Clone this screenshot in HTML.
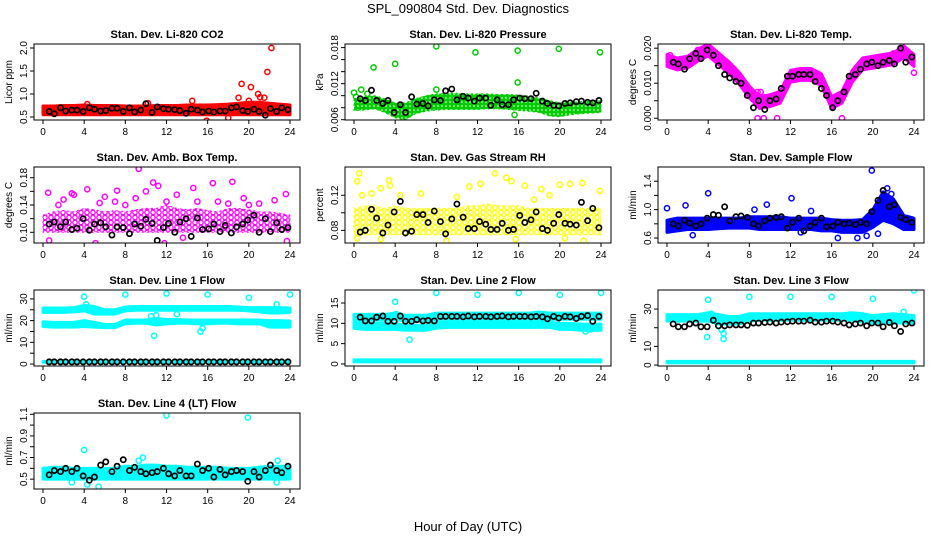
<!DOCTYPE html>
<html><head><meta charset="utf-8"><style>
body{margin:0;background:#fff;}
svg{display:block;font-family:"Liberation Sans",Arial,sans-serif;}
</style></head><body>
<svg id="chart" width="936" height="540" viewBox="0 0 936 540">
<defs>
<pattern id="pat-mag" width="6" height="5" patternUnits="userSpaceOnUse"><circle cx="3" cy="2.5" r="2.2" fill="none" stroke="#ff00ff" stroke-width="1.3"/></pattern>
<pattern id="pat-yel" width="6" height="5" patternUnits="userSpaceOnUse"><circle cx="3" cy="2.5" r="2.2" fill="none" stroke="#ffff00" stroke-width="1.3"/></pattern>
<pattern id="pat-grn" width="4" height="4" patternUnits="userSpaceOnUse"><rect width="4" height="4" fill="#00cc00"/><circle cx="2" cy="2" r="0.8" fill="#ffffff"/></pattern>
</defs>
<text x="468" y="13" text-anchor="middle" font-size="13">SPL_090804  Std. Dev. Diagnostics</text>
<text x="468" y="531" text-anchor="middle" font-size="13">Hour of Day (UTC)</text>
</svg>
<script>
const BAND_HOURS=[0,1,2,3,4,5,6,7,8,9,10,11,12,13,14,15,16,17,18,19,20,21,22,23,24];
const BLACK_X=[0.6,1.1,1.7,2.2,2.8,3.3,3.9,4.5,5.0,5.6,6.1,6.7,7.2,7.8,8.4,8.9,9.5,10.0,10.6,11.1,11.7,12.2,12.8,13.3,13.9,14.4,15.0,15.5,16.1,16.6,17.2,17.7,18.3,18.8,19.4,19.9,20.5,21.0,21.6,22.1,22.7,23.2,23.8];

// Panel 1 CO2
const co2Lo=[.55,.55,.55,.55,.55,.55,.55,.55,.55,.55,.55,.55,.55,.55,.55,.55,.55,.55,.55,.55,.55,.55,.55,.55,.55];
const co2Hi=[.74,.74,.75,.75,.76,.75,.75,.75,.74,.74,.74,.75,.75,.75,.76,.76,.76,.77,.78,.8,.82,.82,.8,.78,.76];
const co2OutX=[19.3,20.2,20.9,21.1,21.5,21.8,22.2,19,14.5,15.9,18,20,4.3,10.2];
const co2OutY=[1.22,1.15,1.0,.93,.92,1.48,2.0,.92,.85,.42,.48,.85,.78,.8];
const co2Black=[.62,.57,.7,.63,.65,.65,.62,.7,.67,.63,.64,.69,.69,.62,.7,.61,.65,.79,.6,.72,.68,.67,.66,.64,.58,.67,.65,.61,.63,.61,.63,.63,.7,.72,.64,.62,.67,.62,.54,.68,.62,.7,.66];
// Panel 2 pressure
const prLo=[.0075,.0076,.0078,.0072,.0063,.006,.007,.0074,.0076,.0077,.0077,.0077,.0077,.0078,.0078,.0077,.0075,.0074,.0072,.0066,.0065,.0068,.007,.0071,.0072];
const prHi=[.0095,.0098,.01,.0095,.0088,.0088,.0095,.01,.0103,.0104,.0104,.0103,.0103,.0103,.0102,.0102,.0101,.0099,.0096,.0092,.0088,.0089,.009,.0092,.0092];
const prOutX=[0,.7,1.9,4,8,8,11.8,15.9,19.9,23.9,15.9,15.6,0.2,1.3];
const prOutY=[.0105,.011,.0147,.0153,.0182,.011,.0172,.0175,.0178,.0172,.0122,.0068,.0098,.0103];
const prBlack=[.0095,.0092,.0109,.0092,.0087,.0092,.0072,.0085,.0072,.0098,.0086,.0087,.0083,.0093,.0092,.0108,.0111,.0093,.0099,.0096,.0091,.0096,.0096,.0084,.0093,.0085,.0085,.0093,.0096,.0095,.0095,.0104,.0091,.0087,.0084,.0083,.0087,.0088,.009,.0091,.0089,.0088,.0092];
// Panel 3 temp
const tpLo=[.0148,.0138,.0143,.0163,.0178,.0153,.0128,.0098,.0058,.0028,.0033,.0043,.0103,.0108,.0108,.0093,.0028,.0043,.0103,.0138,.0143,.0148,.0153,.0173,.0148];
const tpHi=[.0182,.0172,.0177,.0197,.0212,.0187,.0162,.0132,.0092,.0062,.0067,.0077,.0137,.0142,.0142,.0127,.0062,.0077,.0137,.0172,.0177,.0182,.0187,.0207,.0182];
const tpOutX=[8.8,9.4,10.7,17,8.8,9.1,0.3,3,22,24];
const tpOutY=[0,0,0,0,.0075,.0075,.018,.0195,.0185,.013];
const tpBlack=[.016,.0155,.014,.017,.0185,.017,.0195,.018,.015,.0125,.0115,.0105,.01,.0065,.003,.005,.0025,.005,.0055,.0085,.012,.012,.0125,.0125,.0125,.0105,.0085,.0065,.003,.005,.0075,.012,.0125,.014,.0155,.016,.015,.016,.0165,.0155,.02,.016,.0175];
// Panel 4 amb box temp
const abLo=[.1,.1,.1,.1,.1,.1,.1,.1,.1,.1,.1,.1,.1,.1,.1,.1,.1,.1,.1,.1,.1,.1,.1,.1,.1];
const abHi=[.125,.13,.132,.13,.135,.133,.13,.132,.13,.133,.135,.135,.14,.135,.133,.135,.132,.13,.135,.135,.133,.13,.13,.128,.125];
const abOutX=[0.5,2.8,4.3,7.2,9.3,10.7,11.2,16.5,18.4,23.6,0.6,5.1,13.6,23.7,3,6,12,19.5,20,15,22.5,14.6,9,13,1.5,5.5,11.8,8,17,21,2,7,10,18];
const abOutY=[.158,.157,.163,.161,.193,.173,.168,.172,.174,.156,.088,.084,.092,.087,.155,.152,.145,.15,.14,.145,.147,.165,.15,.155,.14,.143,.084,.14,.145,.142,.148,.145,.16,.142];
const abBlack=[.112,.115,.108,.115,.104,.106,.12,.103,.112,.114,.108,.096,.108,.107,.098,.112,.109,.119,.113,.088,.107,.113,.1,.115,.12,.094,.121,.104,.105,.112,.101,.11,.099,.108,.112,.118,.125,.1,.12,.101,.114,.104,.107];
// Panel 5 RH
const rhLo=[.075,.075,.075,.075,.075,.075,.075,.075,.075,.075,.075,.075,.075,.075,.075,.075,.075,.075,.075,.075,.075,.075,.075,.075,.075];
const rhHi=[.105,.108,.108,.105,.108,.105,.105,.105,.105,.105,.105,.108,.108,.11,.108,.108,.108,.105,.105,.105,.105,.105,.105,.105,.105];
const rhOutX=[0.3,0.5,0.8,2.6,3.5,3.4,1.7,4.5,6.5,13.7,14.8,15.3,12.3,16.6,18.2,20,21,22.2,23.9,11.2,20.5,22.3,15.7,0.3,2.6,9,10,17.5,19];
const rhOutY=[.136,.145,.12,.128,.131,.137,.122,.12,.122,.145,.14,.136,.133,.131,.127,.132,.133,.134,.125,.13,.071,.068,.07,.071,.07,.068,.118,.115,.12];
const rhBlack=[.078,.08,.104,.094,.077,.086,.101,.113,.077,.079,.098,.098,.089,.102,.09,.076,.093,.11,.095,.082,.082,.09,.087,.081,.081,.088,.08,.081,.097,.089,.092,.101,.082,.08,.088,.098,.088,.087,.086,.112,.091,.105,.083];
// Panel 6 sample flow
const sfLo=[.68,.7,.72,.72,.72,.73,.74,.74,.74,.72,.72,.72,.72,.72,.72,.7,.7,.68,.68,.68,.75,.85,.8,.72,.72];
const sfHi=[.85,.88,.88,.88,.88,.88,.88,.88,.9,.9,.9,.9,.88,.88,.88,.88,.86,.85,.85,.86,1.0,1.25,1.15,.92,.88];
const sfOutX=[0,1.8,4,9.7,12.1,19.9,21.4,16.6,18.5,19.4,2.5,14,13,8.5,21.8,20.5];
const sfOutY=[1.02,1.06,1.23,1.07,1.16,1.55,1.3,.6,.6,.63,.64,.98,.68,1.0,1.22,.66];
const sfBlack=[.8,.77,.85,.81,.77,.8,.88,.93,.92,1.04,.84,.9,.91,.89,.8,.77,.84,.88,.89,.9,.74,.82,.88,.7,.77,.82,.88,.76,.77,.82,.8,.81,.79,.82,.8,.97,1.13,1.27,1.04,1.07,.89,.86,.82];
// Panel 7 line 1
const l1ALo=[23.8,23.8,23.8,24,24.5,23,23,23,24.5,24.8,24.8,24.8,24.8,24.8,24.8,24.8,24.8,24.8,24.8,24.8,24.5,24,23.5,23.5,23.8];
const l1AHi=[25.8,25.8,25.8,26,27,26.5,25,25,26.3,26.5,26.5,26.5,26.5,26.5,26.5,26.5,26.5,26.5,26.5,26.3,26,26,26,26,25.8];
const l1BLo=[17.3,17,17,17,17.3,17,16.8,16.8,18.5,18.8,18.8,18,18.5,18.8,18.8,18.5,18.5,18.8,18.8,18.5,18.5,18.5,17,17,17];
const l1BHi=[19.5,19.2,19.2,19.2,20,19.2,18.2,18.2,20.3,20.3,20.3,21,20.5,20.5,20.3,20.3,20.3,20.3,20.3,20.3,20.3,20.3,20,20,19.8];
const l1ZLo=[0.8,0.8,0.8,0.8,0.8,0.8,0.8,0.8,0.8,0.8,0.8,0.8,0.8,0.8,0.8,0.8,0.8,0.8,0.8,0.8,0.8,0.8,0.8,0.8,0.8];
const l1ZHi=[1.2,1.2,1.2,1.2,1.2,1.2,1.2,1.2,1.2,1.2,1.2,1.2,1.2,1.2,1.2,1.2,1.2,1.2,1.2,1.2,1.2,1.2,1.2,1.2,1.2];
const l1OutX=[4,8,12,16,20,24,10.8,15.3,4.2,22.7,10.5,11,15.5,13];
const l1OutY=[31,32,32.5,32,30.5,32,13,15,27.5,27.5,22,22.5,16.5,23];
const l1Black=[1,1,1,1,1,1,1,1,1,1,1,1,1,1,1,1,1,1,1,1,1,1,1,1,1,1,1,1,1,1,1,1,1,1,1,1,1,1,1,1,1,1,1];
// Panel 8 line 2
const l2ALo=[10.8,10.8,10.8,10.8,11,10.5,10.5,10.5,11,11,11,11,11,11,11,11,11,11,11,11,11,11,11,11,11];
const l2AHi=[12.2,12.2,12.2,12.2,12.5,12,12,12,12.5,12.5,12.5,12.5,12.5,12.5,12.5,12.5,12.5,12.5,12.8,12.5,12.5,12.5,12.5,12.5,12.5];
const l2BLo=[8.8,8.5,8.5,8.5,8.5,8.3,8.3,8.3,8.8,9,9,9,9,9,9,9,9,9,9,9,8.5,8.5,8.3,8.3,8.3];
const l2BHi=[10.2,10,10,10,10,9.5,9.5,9.5,10.2,10.3,10.3,10.3,10.3,10.3,10.3,10.3,10.3,10.3,10.3,10.3,10,10,9.8,9.8,9.8];
const l2ZLo=[0.5,0.5,0.5,0.5,0.5,0.5,0.5,0.5,0.5,0.5,0.5,0.5,0.5,0.5,0.5,0.5,0.5,0.5,0.5,0.5,0.5,0.5,0.5,0.5,0.5];
const l2ZHi=[1.0,1.0,1.0,1.0,1.0,1.0,1.0,1.0,1.0,1.0,1.0,1.0,1.0,1.0,1.0,1.0,1.0,1.0,1.0,1.0,1.0,1.0,1.0,1.0,1.0];
const l2OutX=[4,8,12,16,20,24,5.4,4.1,22.5,23];
const l2OutY=[15.3,17.5,17,17.5,17,17.5,6,12.3,8,8.5];
const l2Black=[11.5,10.6,10.6,11.5,11.8,10.5,10.5,11.8,10.5,10.5,10.9,10.6,10.7,10.6,11.7,11.7,11.7,11.7,11.6,11.8,11.6,11.7,11.7,11.6,11.7,11.8,11.6,11.7,11.7,11.7,11.6,11.7,11.6,11.1,11.7,11.3,11.7,11.6,11.2,11.7,11.9,10.5,11.7];
// Panel 9 line 3
const l3ALo=[23.5,23.5,23.5,23.5,23.5,22,22,22,23.5,24,24,24,24,24,24,24,24,24,24,23,22.5,22.5,22.5,22.5,22.5];
const l3AHi=[27,27,27,27,28,27,26,26,27.5,27.5,27.5,27.5,27.5,27.5,27.5,27.5,27.5,27.5,28,27.5,26.5,27,27.5,27,26.5];
const l3ZLo=[1.2,1.2,1.2,1.2,1.2,1.2,1.2,1.2,1.2,1.2,1.2,1.2,1.2,1.2,1.2,1.2,1.2,1.2,1.2,1.2,1.2,1.2,1.2,1.2,1.2];
const l3ZHi=[2.0,2.0,2.0,2.0,2.0,2.0,2.0,2.0,2.0,2.0,2.0,2.0,2.0,2.0,2.0,2.0,2.0,2.0,2.0,2.0,2.0,2.0,2.0,2.0,2.0];
const l3OutX=[4,8,12,16,20,24,5.5,5.5,3.9,4.3,5.3,23,22.8];
const l3OutY=[35,36.5,36.5,36.5,35.5,40,17,14,15,27.5,19,28.5,24];
const l3Black=[22,20.5,20.5,22,22.5,20.5,20.5,24,21,21,21.5,21.5,21.5,21.3,22.5,22.5,22.8,23,22.5,23,23.2,23.5,23.5,23.5,24,23,23,23.5,23.5,23,22.5,21.5,22,22.5,21,22.5,22.5,20.5,22.8,21,18,22,22.5];
// Panel 10 line 4
const l4Lo=[.5,.5,.5,.5,.5,.5,.5,.5,.5,.5,.5,.5,.5,.5,.5,.5,.5,.5,.5,.5,.5,.5,.5,.5,.5];
const l4Hi=[.6,.61,.61,.6,.6,.6,.6,.6,.62,.62,.63,.63,.62,.62,.61,.61,.61,.61,.6,.6,.6,.61,.62,.62,.62];
const l4OutX=[12,19.9,4,4.3,5.4,9.7,22.8,22.7,2.8,9.3];
const l4OutY=[1.09,1.07,.77,.45,.43,.7,.67,.47,.47,.67];
const l4Black=[.54,.58,.57,.6,.57,.6,.53,.49,.52,.63,.66,.57,.62,.68,.58,.61,.57,.55,.56,.57,.6,.55,.53,.58,.53,.53,.64,.58,.6,.52,.59,.54,.57,.58,.57,.48,.57,.52,.58,.63,.58,.56,.62];

const XTICKS=[0,4,8,12,16,20,24];
const COLS=[34,345,658], ROWS=[44,167,290,413], W=266, H=76;
const NS='http://www.w3.org/2000/svg';
const svg=document.getElementById('chart');
function mk(tag,attrs,parent){const e=document.createElementNS(NS,tag);for(const k in attrs)e.setAttribute(k,attrs[k]);(parent||svg).appendChild(e);return e;}

const panels=[
 {name:'co2',title:'Stan. Dev. Li-820 CO2',yl:'Licor ppm',c:0,r:0,ylim:[.435,2.087],ticks:[.5,1,1.5,2],labels:['0.5','1.0','1.5','2.0'],col:'#ff0000',fill:'#ff0000',bands:[[co2Lo,co2Hi]],ox:co2OutX,oy:co2OutY,bk:co2Black},
 {name:'pressure',title:'Stan. Dev. Li-820 Pressure',yl:'kPa',c:1,r:0,ylim:[.00595,.0186],ticks:[.006,.008,.01,.012,.014,.016,.018],labels:['0.006','','','0.012','','','0.018'],col:'#00cc00',fill:'url(#pat-grn)',bands:[[prLo,prHi]],ox:prOutX,oy:prOutY,bk:prBlack},
 {name:'temp',title:'Stan. Dev. Li-820 Temp.',yl:'degrees C',c:2,r:0,ylim:[-.0005,.0212],ticks:[0,.005,.01,.015,.02],labels:['0.000','','0.010','','0.020'],col:'#ff00ff',fill:'#ff00ff',bands:[[tpLo,tpHi]],ox:tpOutX,oy:tpOutY,bk:tpBlack},
 {name:'amb-box-temp',title:'Stan. Dev. Amb. Box Temp.',yl:'degrees C',c:0,r:1,ylim:[.0843,.1957],ticks:[.1,.12,.14,.16,.18],labels:['0.10','','0.14','','0.18'],col:'#ff00ff',fill:'url(#pat-mag)',bands:[[abLo,abHi]],ox:abOutX,oy:abOutY,bk:abBlack},
 {name:'gas-rh',title:'Stan. Dev. Gas Stream RH',yl:'percent',c:1,r:1,ylim:[.0656,.1522],ticks:[.08,.1,.12],labels:['0.08','','0.12'],col:'#ffff00',fill:'url(#pat-yel)',bands:[[rhLo,rhHi]],ox:rhOutX,oy:rhOutY,bk:rhBlack},
 {name:'sample-flow',title:'Stan. Dev. Sample Flow',yl:'ml/min',c:2,r:1,ylim:[.53,1.6],ticks:[.6,.8,1,1.2,1.4],labels:['0.6','','1.0','','1.4'],col:'#0000ff',fill:'#0000ff',bands:[[sfLo,sfHi]],ox:sfOutX,oy:sfOutY,bk:sfBlack},
 {name:'line1-flow',title:'Stan. Dev. Line 1 Flow',yl:'ml/min',c:0,r:2,ylim:[-.9,34.1],ticks:[0,5,10,15,20,25,30],labels:['0','','10','','20','','30'],col:'#00ffff',fill:'#00ffff',bands:[[l1ALo,l1AHi],[l1BLo,l1BHi],[l1ZLo,l1ZHi]],ox:l1OutX,oy:l1OutY,bk:l1Black},
 {name:'line2-flow',title:'Stan. Dev. Line 2 Flow',yl:'ml/min',c:1,r:2,ylim:[-.5,18.2],ticks:[0,5,10,15],labels:['0','5','10','15'],col:'#00ffff',fill:'#00ffff',bands:[[l2ALo,l2AHi],[l2BLo,l2BHi],[l2ZLo,l2ZHi]],ox:l2OutX,oy:l2OutY,bk:l2Black},
 {name:'line3-flow',title:'Stan. Dev. Line 3 Flow',yl:'ml/min',c:2,r:2,ylim:[-.5,40.2],ticks:[0,10,20,30],labels:['0','10','','30'],col:'#00ffff',fill:'#00ffff',bands:[[l3ALo,l3AHi],[l3ZLo,l3ZHi]],ox:l3OutX,oy:l3OutY,bk:l3Black},
 {name:'line4-flow',title:'Stan. Dev. Line 4 (LT) Flow',yl:'ml/min',c:0,r:3,ylim:[.409,1.112],ticks:[.5,.6,.7,.8,.9,1,1.1],labels:['0.5','','0.7','','0.9','','1.1'],col:'#00ffff',fill:'#00ffff',bands:[[l4Lo,l4Hi]],ox:l4OutX,oy:l4OutY,bk:l4Black}
];

panels.forEach(p=>{
 const L=COLS[p.c], T=ROWS[p.r];
 const xs=h=>L+9+h*(247/24);
 const ys=v=>T+H-(v-p.ylim[0])/(p.ylim[1]-p.ylim[0])*H;
 const g=mk('g',{});
 
 
 const cp=mk('clipPath',{id:'cp-'+p.name},g);
 mk('rect',{x:L,y:T,width:W,height:H},cp);
 const t=mk('text',{x:L+W/2,y:T-6,'text-anchor':'middle','font-size':'11','font-weight':'bold'},g);
 t.textContent=p.title;
 
 
 const yt=mk('text',{x:L-22,y:T+H/2,'text-anchor':'middle','font-size':'10',transform:`rotate(-90 ${L-22} ${T+H/2})`},g);
 yt.textContent=p.yl;
 
 
 const data=mk('g',{'clip-path':`url(#cp-${p.name})`},g);
 p.bands.forEach((b,bi)=>{
  let d='';
  BAND_HOURS.forEach((h,i)=>{d+=(i?'L':'M')+xs(h)+' '+ys(b[1][i]);});
  for(let i=BAND_HOURS.length-1;i>=0;i--)d+='L'+xs(BAND_HOURS[i])+' '+ys(b[0][i]);
  const path=mk('path',{d:d+'Z',fill:p.fill,stroke:p.col,'stroke-width':p.fill.startsWith('url')?'1':'3','stroke-linejoin':'round','stroke-dasharray':p.fill.startsWith('url')?'2 3':'none'},data);
  
  
 });
 p.ox.forEach((x,i)=>{
  const c=mk('circle',{cx:xs(x),cy:ys(p.oy[i]),r:2.6,fill:'none',stroke:p.col,'stroke-width':'1.5'},data);
  
  
 });
 p.bk.forEach((v,i)=>{
  if(i>=BLACK_X.length)return;
  const c=mk('circle',{cx:xs(BLACK_X[i]),cy:ys(v),r:2.6,fill:'none',stroke:'#000','stroke-width':'1.7'},data);
  
  
 });
 const box=mk('rect',{x:L,y:T,width:W,height:H,fill:'none',stroke:'#000','stroke-width':'1'},g);
 
 
 XTICKS.forEach(h=>{
  mk('line',{x1:xs(h),x2:xs(h),y1:T+H,y2:T+H+4,stroke:'#000'},g);
  const lt=mk('text',{x:xs(h),y:T+H+15,'text-anchor':'middle','font-size':'10'},g);
  lt.textContent=h;
  
  
 });
 p.ticks.forEach((v,i)=>{
  const y=ys(v);
  mk('line',{x1:L-4,x2:L,y1:y,y2:y,stroke:'#000'},g);
  if(p.labels[i]){
   const lt=mk('text',{x:L-7,y:y,'text-anchor':'middle','font-size':'10',transform:`rotate(-90 ${L-7} ${y})`},g);
   lt.textContent=p.labels[i];
   
   
  }
 });
});
</script>
</body></html>
